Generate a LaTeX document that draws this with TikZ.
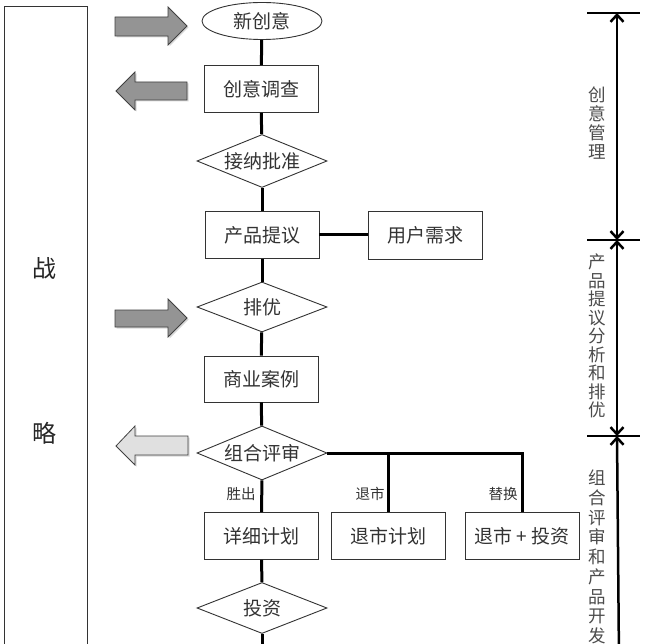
\documentclass[tikz,border=0pt]{standalone}
\usepackage{fontspec}
\setmainfont{Noto Sans CJK SC}
\usetikzlibrary{shapes.geometric,arrows.meta,shadows}
\begin{document}
\begin{tikzpicture}[x=1pt,y=-1pt,
  box/.style={draw=black!80, line width=0.9pt, minimum width=114pt, minimum height=47pt, inner sep=0pt, font=\fontsize{19}{22}\selectfont, text=black!80},
  dia/.style={diamond, aspect=3, draw=black!80, line width=0.9pt, minimum width=130pt, minimum height=53pt, inner sep=0pt, font=\fontsize{19}{22}\selectfont, text=black!80},
  oval/.style={ellipse, draw=black!80, line width=0.9pt, minimum width=120pt, minimum height=37pt, inner sep=0pt, font=\fontsize{19}{22}\selectfont, text=black!80},
  conn/.style={line width=3pt, black},
  small/.style={font=\fontsize{14.5}{16}\selectfont, text=black!80, inner sep=0pt},
  side/.style={font=\fontsize{17.5}{19}\selectfont, align=center, text=black!70, inner sep=0pt},
  big/.style={font=\fontsize{24}{28}\selectfont, text=black!85, inner sep=0pt},
  bigarrow/.style={draw=black!75, line width=0.8pt, fill=black!42, line join=miter, drop shadow={opacity=0.3, shadow xshift=1.5pt, shadow yshift=-1.5pt}},
  lightarrow/.style={bigarrow, fill=black!12},
  tick/.style={line width=2.5pt, black},
  vline/.style={line width=2.5pt, black}
]
\useasboundingbox (0,0) rectangle (650,644);
\clip (0,0) rectangle (650,644);
\fill[white] (0,0) rectangle (650,644);

% strategy frame
\draw[draw=black!80, line width=1pt] (4,660) -- (4,7) -- (87,7) -- (87,660);
\node[big] (zhan) at (44,268) {战};
\node[big] (lue) at (44,433) {略};

% big arrows
\path[bigarrow] (115,17) -- (168,17) -- (168,7) -- (187,26) -- (168,45) -- (168,36) -- (115,36) -- cycle;
\path[bigarrow] (187,82) -- (135,82) -- (135,72) -- (116,91) -- (135,110) -- (135,100) -- (187,100) -- cycle;
\path[bigarrow] (115,310) -- (168,310) -- (168,299) -- (187,318) -- (168,337) -- (168,327) -- (115,327) -- cycle;
\path[lightarrow] (188,436) -- (135,436) -- (135,426) -- (116,446) -- (135,465) -- (135,455) -- (188,455) -- cycle;

% flow nodes
\node[oval] (new) at (262,21) {新创意};
\node[box] (survey) at (261,89) {创意调查};
\node[dia] (accept) at (262,161) {接纳批准};
\node[box] (proposal) at (262,235) {产品提议};
\node[box, minimum height=48pt] (user) at (425,235) {用户需求};
\node[dia, minimum height=50pt] (prio) at (262,307) {排优};
\node[box, minimum height=46pt] (biz) at (261,379) {商业案例};
\node[dia, minimum height=54pt] (review) at (262,453) {组合评审};
\node[box] (detail) at (261.5,536) {详细计划};
\node[box] (exit) at (388.5,536) {退市计划};
\node[box] (exitinv) at (522,536) {退市 + 投资};
\node[dia, minimum height=51pt] (invest) at (262,608) {投资};
\coordinate (bot) at (262,650);

% connectors
\draw[conn] (new) -- (survey);
\draw[conn] (survey) -- (accept);
\draw[conn] (accept) -- (proposal);
\draw[conn] (proposal) -- (user);
\draw[conn] (proposal) -- (prio);
\draw[conn] (prio) -- (biz);
\draw[conn] (biz) -- (review);
\draw[conn] (review) -- (detail);
\draw[conn] (detail) -- (invest);
\draw[conn] (invest) -- (bot);
\draw[conn] (review.east) -- (exitinv.north |- review.east) -- (exitinv.north);
\draw[conn] (exit.north |- review.east) -- (exit.north);

% branch labels
\node[small] (lwin) at (241,494) {胜出};
\node[small] (lexit) at (370,494) {退市};
\node[small] (lrep) at (503,494) {替换};

% right-side phase markers
\coordinate (t1) at (617,13);
\coordinate (t2) at (617,240);
\coordinate (t3) at (617,436);
\coordinate (t4) at (619,660);
\draw[tick] (587,13) -- (640,13);
\draw[tick] (587,240) -- (640,240);
\draw[tick] (587,436) -- (640,436);
\draw[vline, {Straight Barb[length=7pt,width=13pt]}-{Straight Barb[length=7pt,width=13pt]}] (t1) -- (t2);
\draw[vline, {Straight Barb[length=7pt,width=13pt]}-{Straight Barb[length=7pt,width=13pt]}] (t2) -- (t3);
\draw[vline, {Straight Barb[length=7pt,width=13pt]}-] (t3) -- (t4);

\node[side, font=\fontsize{17.5}{19}\selectfont] (p1) at (597,123) {创\\意\\管\\理};
\node[side, font=\fontsize{17.5}{18.5}\selectfont] (p2) at (597,336) {产\\品\\提\\议\\分\\析\\和\\排\\优};
\node[side, font=\fontsize{17.5}{19.7}\selectfont] (p3) at (597,557) {组\\合\\评\\审\\和\\产\\品\\开\\发};
\end{tikzpicture}
\end{document}
